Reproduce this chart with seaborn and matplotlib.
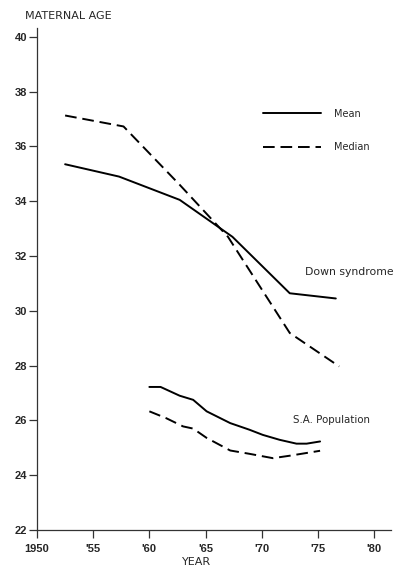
import seaborn as sns
import matplotlib.pyplot as plt
import pandas as pd

# Down syndrome series
ds_mean_year = [1952.5, 1957.3, 1962.7, 1967.4, 1972.5, 1976.6]
ds_mean_age = [35.35, 34.9, 34.05, 32.7, 30.64, 30.45]
ds_median_year = [1952.5, 1957.7, 1962.7, 1967.0, 1972.5, 1976.9]
ds_median_age = [37.13, 36.73, 34.6, 32.7, 29.19, 27.97]

# S.A. population series
sa_mean_year = [1960.0, 1961.0, 1962.7, 1963.9, 1965.1, 1967.2, 1968.9, 1970.1, 1971.6, 1973.1, 1974.0, 1975.2]
sa_mean_age = [27.22, 27.22, 26.9, 26.75, 26.33, 25.9, 25.66, 25.47, 25.29, 25.15, 25.15, 25.23]
sa_median_year = [1960.0, 1961.5, 1963.0, 1963.9, 1965.1, 1967.2, 1968.9, 1971.0, 1972.5, 1975.2]
sa_median_age = [26.33, 26.08, 25.78, 25.7, 25.36, 24.9, 24.78, 24.62, 24.71, 24.89]

x_ticks = [1950, 1955, 1960, 1965, 1970, 1975, 1980]
x_labels = ['1950', "'55", "'60", "'65", "'70", "'75", "'80"]
y_ticks = [22, 24, 26, 28, 30, 32, 34, 36, 38, 40]

sns.set_style('ticks')
plt.rcParams['font.family'] = ['DejaVu Sans']

frames = []
for yrs, ages, stat, grp in [(ds_mean_year, ds_mean_age, 'Mean', 'ds'),
                             (ds_median_year, ds_median_age, 'Median', 'ds'),
                             (sa_mean_year, sa_mean_age, 'Mean', 'sa'),
                             (sa_median_year, sa_median_age, 'Median', 'sa')]:
    frames.append(pd.DataFrame({'year': yrs, 'age': ages, 'stat': stat, 'group': grp}))
df = pd.concat(frames, ignore_index=True)

fig = plt.figure(figsize=(3.94, 5.68), dpi=100)
ax = fig.add_axes([0.094, 0.067, 0.898, 0.884])

styles = {'Mean': '-', 'Median': (0, (6, 3))}
for (grp, stat), d in df.groupby(['group', 'stat'], sort=False):
    sns.lineplot(data=d, x='year', y='age', ax=ax, color='black', lw=1.4,
                 linestyle=styles[stat], sort=False, estimator=None,
                 dash_capstyle='butt', label=stat if grp == 'ds' else None)

ax.set_xlim(1950, 1981.5)
ax.set_ylim(22, 40.33)
ax.set_xticks(x_ticks)
ax.set_xticklabels(x_labels, fontsize=8, fontweight='bold', family='Liberation Sans')
ax.set_yticks(y_ticks)
ax.set_yticklabels([str(v) for v in y_ticks], fontsize=8, fontweight='bold', family='Liberation Sans')
ax.tick_params(axis='y', length=6, width=0.9, pad=1, color='#333333')
ax.tick_params(axis='x', length=6, width=0.9, pad=4, color='#333333')
ax.set_xlabel('')
ax.set_ylabel('')
sns.despine(ax=ax)
for s in ['left', 'bottom']:
    ax.spines[s].set_linewidth(0.9)
    ax.spines[s].set_color('#333333')

leg = ax.legend(loc='upper left', bbox_to_anchor=(0.615, 0.856), frameon=False,
                fontsize=7, handlelength=5.9, labelspacing=2.4, handletextpad=1.35)

ax.text(1973.9, 31.42, 'Down syndrome', fontsize=7.8, ha='left', va='center')
ax.text(1972.8, 26.02, 'S.A. Population', fontsize=7.4, ha='left', va='center')

fig.text(0.064, 0.972, 'MATERNAL AGE', fontsize=8, ha='left', va='center')
fig.text(0.5, 0.01, 'YEAR', fontsize=8, ha='center', va='center')

fig.savefig('out.png', dpi=100)
